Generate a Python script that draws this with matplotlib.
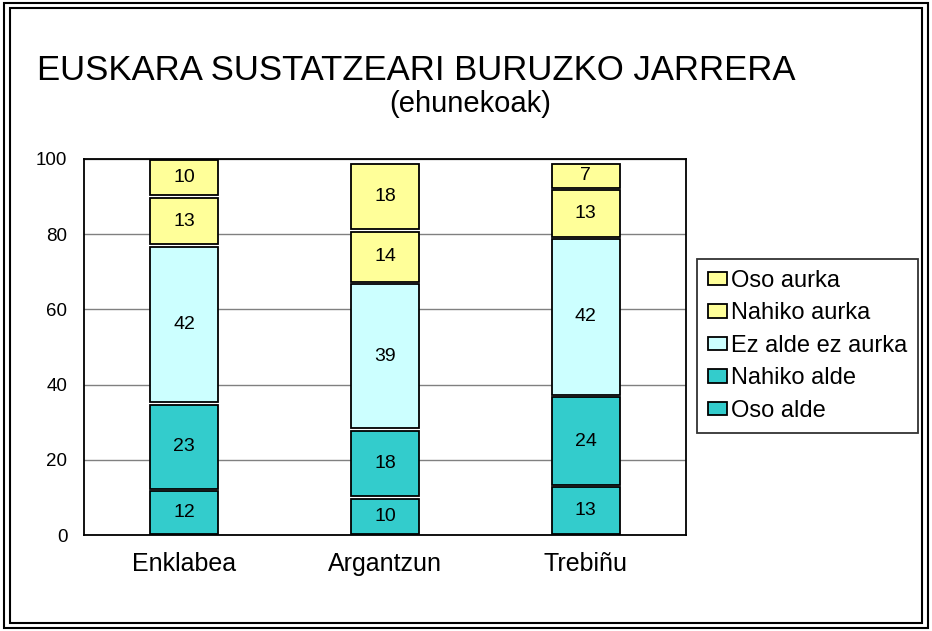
import numpy as np
from matplotlib import pyplot as plt
from matplotlib.patches import Rectangle

plt.rcParams['font.family'] = ['Liberation Sans', 'DejaVu Sans']

# datuak
herriak = ['Enklabea', 'Argantzun', 'Trebiñu']
oso_alde = [12, 10, 13]
nahiko_alde = [23, 18, 24]
ez_alde_ez_aurka = [42, 39, 42]
nahiko_aurka = [13, 14, 13]
oso_aurka = [10, 18, 7]

serieak = [('Oso alde', oso_alde, '#33CCCC'),
           ('Nahiko alde', nahiko_alde, '#33CCCC'),
           ('Ez alde ez aurka', ez_alde_ez_aurka, '#CCFFFF'),
           ('Nahiko aurka', nahiko_aurka, '#FFFF99'),
           ('Oso aurka', oso_aurka, '#FFFF99')]

fig = plt.figure(figsize=(9.32, 6.31), dpi=100)
ax = fig.add_axes([84/932, 96/631, 602/932, 376/631])

x = np.arange(len(herriak))
gap = 0.35
bottom = np.zeros(len(herriak))
handles = []
for name, vals, col in serieak:
    vals = np.array(vals, dtype=float)
    b = ax.bar(x, vals - 2*gap, bottom=bottom + gap, width=0.34, color=col,
               edgecolor='black', linewidth=1.3, label=name)
    for xi, yi, v in zip(x, bottom, vals):
        ax.text(xi, yi + v/2, '%d' % v, ha='center', va='center', fontsize=14)
    handles.append(b)
    bottom += vals

ax.set_xlim(-0.5, 2.5)
ax.set_ylim(0, 100)
ax.set_yticks([0, 20, 40, 60, 80, 100])
ax.set_xticks(x)
ax.set_xticklabels(herriak, fontsize=18)
ax.tick_params(axis='y', labelsize=13.5, length=0, pad=12)
ax.tick_params(axis='x', length=0, pad=12)
ax.grid(axis='y', color='#808080', linewidth=1)
ax.set_axisbelow(True)
for s in ax.spines.values():
    s.set_linewidth(1.3)

leg = fig.legend(handles[::-1], [s[0] for s in serieak][::-1], loc='upper left',
                 bbox_to_anchor=(697/932, 1 - 259/631), fontsize=17, frameon=True,
                 fancybox=False, edgecolor='black', handlelength=0.8, handleheight=0.5,
                 handletextpad=0.2, labelspacing=0.45, borderpad=0.45, borderaxespad=0)
leg.get_frame().set_linewidth(1.3)

fig.text(37/932, 1 - 71/631, 'EUSKARA SUSTATZEARI BURUZKO JARRERA', fontsize=25,
         ha='left', va='center')
fig.text(470/932, 1 - 104/631, '(ehunekoak)', fontsize=21, ha='center', va='center')

# marko bikoitza
fig.patches.append(Rectangle((4/932, 3/631), 924/932, 625/631, transform=fig.transFigure,
                             fill=False, edgecolor='black', linewidth=1.5))
fig.patches.append(Rectangle((10/932, 8/631), 912/932, 615/631, transform=fig.transFigure,
                             fill=False, edgecolor='black', linewidth=1.5))

fig.savefig('out.png', dpi=100)
